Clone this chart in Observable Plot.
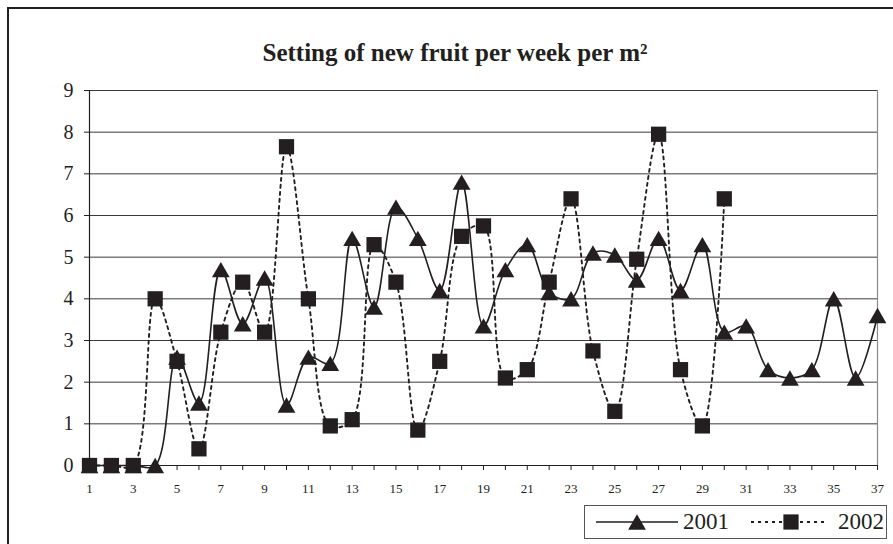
<!DOCTYPE html>
<html><head><meta charset="utf-8">
<script src="https://cdn.jsdelivr.net/npm/d3@7"></script>
<script src="https://cdn.jsdelivr.net/npm/@observablehq/plot@0.6"></script>
<style>
html,body{margin:0;padding:0;background:#fff;overflow:hidden;}
#wrap{position:relative;width:893px;height:544px;overflow:hidden;}
#wrap svg{position:absolute;left:0;top:0;}
</style></head><body><div id="wrap"></div>
<script>
const title = "Setting of new fruit per week per m²";
const weeks = [1,2,3,4,5,6,7,8,9,10,11,12,13,14,15,16,17,18,19,20,21,22,23,24,25,26,27,28,29,30,31,32,33,34,35,36,37];
const xTickLabels = [1,3,5,7,9,11,13,15,17,19,21,23,25,27,29,31,33,35,37];
const yTicks = [0,1,2,3,4,5,6,7,8,9];
const seriesNames = ["2001","2002"];
const values2001 = [0,0,0,0,2.6,1.5,4.7,3.4,4.5,1.45,2.6,2.45,5.45,3.8,6.2,5.45,4.2,6.8,3.35,4.7,5.3,4.15,4.0,5.1,5.05,4.45,5.45,4.2,5.3,3.2,3.35,2.3,2.1,2.3,4.0,2.1,3.6];
const values2002 = [0,0,0,4.0,2.5,0.4,3.2,4.4,3.2,7.65,4.0,0.95,1.1,5.3,4.4,0.85,2.5,5.5,5.75,2.1,2.3,4.4,6.4,2.75,1.3,4.95,7.95,2.3,0.95,6.4];

const d2001 = values2001.map((v,i)=>({week: weeks[i], value: v, year: seriesNames[0]}));
const d2002 = values2002.map((v,i)=>({week: weeks[i], value: v, year: seriesNames[1]}));

const ink = "#231f20";
const font = "'Liberation Serif','Times New Roman',serif";
const rTri = 6.6, rSq = 8.6;

const chart = Plot.plot({
  width: 893, height: 544,
  marginLeft: 89, marginRight: 16, marginTop: 90, marginBottom: 79,
  style: {fontFamily: font, background: "transparent", color: ink, overflow: "visible"},
  x: {domain: [1,37], label: null},
  y: {domain: [0,9], label: null},
  marks: [
    Plot.gridY(yTicks, {stroke: "#3a3a3a", strokeOpacity: 1, strokeWidth: 1}),
    Plot.ruleX([37], {stroke: "#8a8a8a", strokeWidth: 1.2}),
    Plot.ruleX([1], {stroke: ink, strokeWidth: 1.2}),
    Plot.ruleY([0], {stroke: ink, strokeWidth: 1.2}),
    Plot.axisY({ticks: yTicks, tickSize: 5, tickPadding: 11, fontSize: 20, label: null}),
    Plot.axisX({ticks: weeks, tickSize: 5, tickPadding: 13, fontSize: 13, label: null,
      tickFormat: d => xTickLabels.includes(d) ? String(d) : ""}),
    Plot.line(d2001, {x: "week", y: "value", curve: "catmull-rom", stroke: ink, strokeWidth: 1.6}),
    Plot.line(d2002, {x: "week", y: "value", curve: "catmull-rom", stroke: ink, strokeWidth: 1.9, strokeDasharray: "3,4"}),
    Plot.dot(d2001, {x: "week", y: "value", symbol: "triangle", r: rTri, fill: ink, stroke: "none", dy: 2.5}),
    Plot.dot(d2002, {x: "week", y: "value", symbol: "square", r: rSq, fill: ink, stroke: "none"})
  ]
});
document.getElementById("wrap").appendChild(chart);

// overlay: frame, title, legend
const ov = d3.select("#wrap").append("svg").attr("width", 893).attr("height", 544)
  .style("font-family", font);
ov.append("rect").attr("x", 8).attr("y", 8).attr("width", 1000).attr("height", 1000)
  .attr("fill", "none").attr("stroke", ink).attr("stroke-width", 2);
ov.append("text").attr("x", 455).attr("y", 61).attr("text-anchor", "middle")
  .attr("font-size", 25).attr("font-weight", "bold").attr("fill", ink).text(title);

const lg = ov.append("g");
lg.append("rect").attr("x", 584.5).attr("y", 505.5).attr("width", 302).attr("height", 33)
  .attr("fill", "#fff").attr("stroke", "#555").attr("stroke-width", 1);
lg.append("line").attr("x1", 596).attr("x2", 678).attr("y1", 522).attr("y2", 522)
  .attr("stroke", ink).attr("stroke-width", 1.6);
lg.append("path").attr("d", d3.symbol(d3.symbolTriangle, Math.PI*rTri*rTri)())
  .attr("transform", "translate(637,524.5)").attr("fill", ink);
lg.append("text").attr("x", 683).attr("y", 529).attr("font-size", 23).attr("fill", ink).text(seriesNames[0]);
lg.append("line").attr("x1", 751).attr("x2", 828).attr("y1", 522).attr("y2", 522)
  .attr("stroke", ink).attr("stroke-width", 1.9).attr("stroke-dasharray", "3,4");
lg.append("path").attr("d", d3.symbol(d3.symbolSquare, Math.PI*rSq*rSq)())
  .attr("transform", "translate(791,522)").attr("fill", ink);
lg.append("text").attr("x", 838).attr("y", 529).attr("font-size", 23).attr("fill", ink).text(seriesNames[1]);
</script></body></html>
